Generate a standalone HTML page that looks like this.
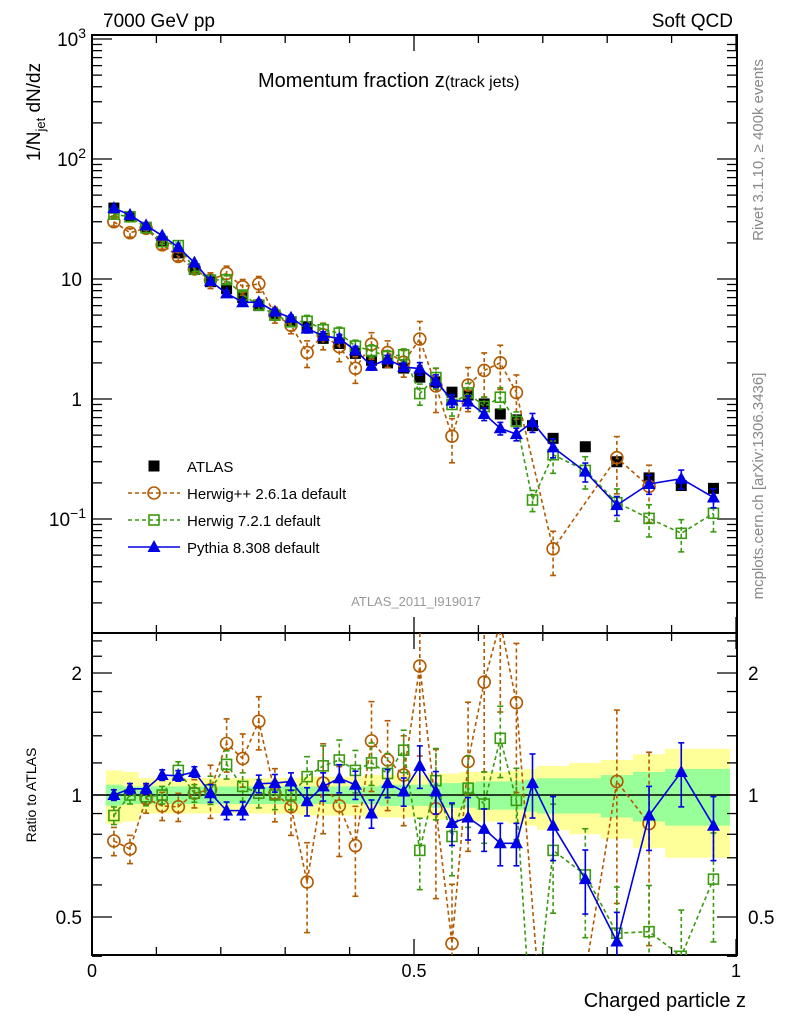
<!DOCTYPE html>
<html><head><meta charset="utf-8"><style>
html,body{margin:0;padding:0;background:#fff;width:786px;height:1024px;overflow:hidden}
svg{display:block;font-family:"Liberation Sans",sans-serif}
</style></head><body>
<svg id="c" width="786" height="1024" viewBox="0 0 786 1024" xmlns="http://www.w3.org/2000/svg">
<defs>
<clipPath id="cm"><rect x="92" y="35" width="645" height="598"/></clipPath>
<clipPath id="cr"><rect x="92" y="633" width="645" height="322"/></clipPath>
</defs>
<g id="bands" clip-path="url(#cr)"></g>
<g id="grid"></g>
<g id="mainmarks" clip-path="url(#cm)"></g>
<g id="ratiomarks" clip-path="url(#cr)"></g>
<text x="103" y="27" font-size="19">7000 GeV pp</text>
<text x="733" y="27" font-size="19" text-anchor="end">Soft QCD</text>
<text transform="translate(763,150) rotate(-90)" font-size="15" fill="#888" text-anchor="middle">Rivet 3.1.10, ≥ 400k events</text>
<text transform="translate(763,486) rotate(-90)" font-size="15" fill="#888" text-anchor="middle">mcplots.cern.ch [arXiv:1306.3436]</text>
<text transform="translate(40,112) rotate(-90)" font-size="19" text-anchor="middle">1/N<tspan font-size="13" dy="5">jet</tspan><tspan dy="-5"> dN/dz</tspan></text>
<text transform="translate(36,795) rotate(-90)" font-size="14" text-anchor="middle">Ratio to ATLAS</text>
<text x="258" y="87" font-size="20">Momentum fraction z<tspan font-size="16">(track jets)</tspan></text>
<text x="746" y="1007" font-size="20" text-anchor="end">Charged particle z</text>
<text x="416" y="606" font-size="13" fill="#999" text-anchor="middle">ATLAS_2011_I919017</text>
<g id="legend"></g>
</svg>
<script>
const zc=[0.034,0.059,0.084,0.109,0.134,0.159,0.184,0.209,0.234,0.259,0.284,0.309,0.334,0.359,0.384,0.409,0.434,0.459,0.484,0.509,0.534,0.559,0.584,0.609,0.634,0.659,0.684,0.716,0.766,0.815,0.865,0.915,0.965];
const zhw=[0.0125,0.0125,0.0125,0.0125,0.0125,0.0125,0.0125,0.0125,0.0125,0.0125,0.0125,0.0125,0.0125,0.0125,0.0125,0.0125,0.0125,0.0125,0.0125,0.0125,0.0125,0.0125,0.0125,0.0125,0.0125,0.0125,0.0125,0.025,0.025,0.025,0.025,0.025,0.025];
const atlas=[39,33,27,20.5,16.5,12,9.5,8.3,7.0,6.0,5.0,4.4,4.0,3.2,2.9,2.4,2.1,2.0,1.81,1.52,1.39,1.14,1.08,0.91,0.75,0.67,0.60,0.47,0.40,0.30,0.22,0.19,0.18];
const yelErr=[0.15,0.14,0.1,0.1,0.1,0.1,0.1,0.1,0.1,0.1,0.1,0.1,0.11,0.11,0.11,0.11,0.12,0.12,0.12,0.12,0.13,0.13,0.14,0.14,0.14,0.15,0.16,0.18,0.2,0.22,0.26,0.3,0.3];
const grnErr=[0.06,0.05,0.05,0.05,0.05,0.05,0.05,0.05,0.05,0.05,0.05,0.05,0.05,0.05,0.05,0.05,0.05,0.06,0.06,0.06,0.07,0.07,0.07,0.08,0.08,0.08,0.09,0.1,0.1,0.12,0.14,0.16,0.16];
const herwigppRatio=[0.77,0.736,0.98,0.94,0.935,1.01,1.03,1.34,1.23,1.52,1.01,0.935,0.61,1.07,0.94,0.75,1.36,1.22,1.12,2.08,0.925,0.43,1.21,1.9,2.67,1.69,null,0.12,null,1.08,0.85];
const herwigppErr=[0.08,0.08,0.08,0.08,0.08,0.08,0.15,0.15,0.15,0.15,0.15,0.15,0.25,0.25,0.25,0.25,0.25,0.25,0.25,0.4,0.4,0.4,0.4,0.4,0.4,0.4,0.4,0.4,0.4,0.5,0.5];
const herwig7Ratio=[0.89,1.0,0.99,1.0,1.15,1.01,1.03,1.19,1.05,1.01,1.0,1.0,1.11,1.18,1.22,1.15,1.2,1.13,1.29,0.73,1.085,0.79,1.04,0.95,1.38,0.97,0.24,0.73,0.635,0.456,0.46,0.40,0.62];
const herwig7Err=[0.05,0.05,0.05,0.05,0.05,0.05,0.08,0.08,0.08,0.08,0.08,0.08,0.12,0.12,0.12,0.12,0.12,0.12,0.12,0.2,0.2,0.2,0.2,0.2,0.2,0.2,0.2,0.3,0.3,0.3,0.3,0.3,0.3];
const pythiaRatio=[1.0,1.036,1.036,1.12,1.115,1.14,1.01,0.915,0.915,1.066,1.07,1.08,0.965,1.05,1.10,1.06,0.90,1.07,1.02,1.18,1.02,0.853,0.88,0.825,0.76,0.76,1.07,0.84,0.62,0.435,0.89,1.14,0.84];
const pythiaErr=[0.03,0.03,0.03,0.03,0.03,0.03,0.05,0.05,0.05,0.05,0.05,0.05,0.08,0.08,0.08,0.08,0.08,0.08,0.08,0.12,0.12,0.12,0.12,0.12,0.12,0.12,0.18,0.18,0.18,0.18,0.18,0.18,0.18];
const yTicksMain=["10^3","10^2","10","1","10^-1"];
const yTickMainVals=[1000,100,10,1,0.1];
const ratioTicks=["2","1","0.5"];
const ratioTickVals=[2,1,0.5];
const xTicks=["0","0.5","1"];
const xTickVals=[0,0.5,1];

const NS="http://www.w3.org/2000/svg";
const xs=z=>92+644*z;
const ym=v=>399-120*Math.log10(v);
const yr=r=>795-122*Math.log2(r);
function mk(tag,attrs,parent){const e=document.createElementNS(NS,tag);for(const k in attrs)e.setAttribute(k,attrs[k]);parent.appendChild(e);return e;}
const G=document.getElementById('grid'),B=document.getElementById('bands'),M=document.getElementById('mainmarks'),R=document.getElementById('ratiomarks'),L=document.getElementById('legend');

zc.forEach((z,i)=>{
  let r=mk('rect',{x:xs(z-zhw[i]),width:644*2*zhw[i]+0.5,y:yr(1+yelErr[i]),height:yr(1-yelErr[i])-yr(1+yelErr[i]),fill:'#ffff99'},B);
  
  
});
zc.forEach((z,i)=>{
  let r=mk('rect',{x:xs(z-zhw[i]),width:644*2*zhw[i]+0.5,y:yr(1+grnErr[i]),height:yr(1-grnErr[i])-yr(1+grnErr[i]),fill:'#99ff99'},B);
  
  
});
mk('line',{x1:92,x2:737,y1:yr(1),y2:yr(1),stroke:'#000','stroke-width':1.5},B);

mk('rect',{x:92,y:35,width:645,height:598,fill:'none',stroke:'#000','stroke-width':2},G);
mk('rect',{x:92,y:633,width:645,height:322,fill:'none',stroke:'#000','stroke-width':2},G);
for(let k=0;k<=10;k++){const x=xs(k/10),big=k%5==0;
  [[633,-1],[35,1],[955,-1],[633,1]].forEach(([y0,d])=>mk('line',{x1:x,x2:x,y1:y0,y2:y0+d*(big?16:8),stroke:'#000','stroke-width':1.3},G));}
xTickVals.forEach((v,i)=>{let t=mk('text',{x:xs(v),y:977,'font-size':18,'text-anchor':'middle'},G);t.textContent=xTicks[i];
  
  });
for(let d=-2;d<=2;d++)for(let m=1;m<10;m++){const v=m*Math.pow(10,d);const y=ym(v);if(y<35||y>633)continue;const big=m==1;
  mk('line',{x1:92,x2:92+(big?20:10),y1:y,y2:y,stroke:'#000','stroke-width':1.3},G);
  mk('line',{x1:737,x2:737-(big?20:10),y1:y,y2:y,stroke:'#000','stroke-width':1.3},G);}
mk('line',{x1:92,x2:112,y1:ym(1000),y2:ym(1000),stroke:'#000','stroke-width':1.3},G);
yTickMainVals.forEach((v,i)=>{const s=yTicksMain[i];let t=mk('text',{x:82,y:ym(v)+7,'font-size':19,'text-anchor':'end'},G);
  if(s.includes('^')){const [b,e]=s.split('^');t.textContent=b;const sp=mk('tspan',{'font-size':14,dy:-8},t);sp.textContent=e.replace('-','−');t.setAttribute('x',86);}
  else t.textContent=s;
  
  });
[0.4,0.5,0.6,0.7,0.8,0.9,1,1.2,1.4,1.6,1.8,2,2.2,2.4].forEach(v=>{const y=yr(v);const big=[0.5,1,2].includes(v);
  mk('line',{x1:92,x2:92+(big?20:10),y1:y,y2:y,stroke:'#000','stroke-width':1.3},G);
  mk('line',{x1:737,x2:737-(big?20:10),y1:y,y2:y,stroke:'#000','stroke-width':1.3},G);});
ratioTickVals.forEach((v,i)=>{[[82,'end'],[748,'start']].forEach(([x,a])=>{let t=mk('text',{x:x,y:yr(v)+7,'font-size':19,'text-anchor':a},G);t.textContent=ratioTicks[i];
  
  });});

function marker(g,type,x,y,col){
  if(type=='sq')return mk('rect',{x:x-5.5,y:y-5.5,width:11,height:11,fill:'#000'},g);
  if(type=='osq')return mk('rect',{x:x-5,y:y-5,width:10,height:10,fill:'none',stroke:col,'stroke-width':1.6},g);
  if(type=='circ')return mk('circle',{cx:x,cy:y,r:6,fill:'none',stroke:col,'stroke-width':1.6},g);
  if(type=='tri')return mk('polygon',{points:`${x},${y-7} ${x-6.5},${y+5} ${x+6.5},${y+5}`,fill:col},g);
}
function series(parent,name,vals,errs,type,col,dash,yf,line){
  const g=mk('g',{},parent);
  
  
  const st={stroke:col,'stroke-width':1.6};if(dash)st['stroke-dasharray']=dash;
  if(line){const pts=vals.map((v,i)=>v==null?null:xs(zc[i])+','+yf(Math.max(v,1e-4))).filter(p=>p).join(' ');
    mk('polyline',Object.assign({points:pts,fill:'none'},st),g);}
  vals.forEach((v,i)=>{if(v==null)return;if(errs){const x=xs(zc[i]);const lo=Math.max(v*(1-errs[i]),1e-4),hi=v*(1+errs[i]);
      mk('line',Object.assign({x1:x,x2:x,y1:yf(lo),y2:yf(hi)},st),g);
      mk('line',{x1:x-3,x2:x+3,y1:yf(lo),y2:yf(lo),stroke:col,'stroke-width':1.6},g);
      mk('line',{x1:x-3,x2:x+3,y1:yf(hi),y2:yf(hi),stroke:col,'stroke-width':1.6},g);}
    const m=marker(g,type,xs(zc[i]),yf(Math.max(v,1e-4)),col);
    
    });
}
const OR='#b35a00',GR='#3a9a10',BL='#0000e6';
const hppMain=herwigppRatio.map((r,i)=>r==null?null:r*atlas[i]);
const h7Main=herwig7Ratio.map((r,i)=>r*atlas[i]);
const pyMain=pythiaRatio.map((r,i)=>r*atlas[i]);
series(M,'atlas-data',atlas,null,'sq','#000',null,ym,false);
series(M,'herwigpp-series',hppMain,herwigppErr,'circ',OR,'4,3',ym,true);
series(M,'herwig7-series',h7Main,herwig7Err,'osq',GR,'4,3',ym,true);
series(M,'pythia-series',pyMain,pythiaErr,'tri',BL,null,ym,true);
series(R,'herwigpp-ratio',herwigppRatio,herwigppErr,'circ',OR,'4,3',yr,true);
series(R,'herwig7-ratio',herwig7Ratio,herwig7Err,'osq',GR,'4,3',yr,true);
series(R,'pythia-ratio',pythiaRatio,pythiaErr,'tri',BL,null,yr,true);

const legNames=['ATLAS','Herwig++ 2.6.1a default','Herwig 7.2.1 default','Pythia 8.308 default'];
const legTypes=['sq','circ','osq','tri'];const legCols=['#000',OR,GR,BL];const legDash=[null,'4,3','4,3',null];
legNames.forEach((n,i)=>{const y=466+27*i;const g=mk('g',{},L);
  
  
  if(i>0){const a={x1:128,x2:180,y1:y,y2:y,stroke:legCols[i],'stroke-width':1.6};if(legDash[i])a['stroke-dasharray']=legDash[i];mk('line',a,g);}
  marker(g,legTypes[i],154,y,legCols[i]);
  const t=mk('text',{x:187,y:y+6,'font-size':15},g);t.textContent=n;});
</script>
</body></html>
